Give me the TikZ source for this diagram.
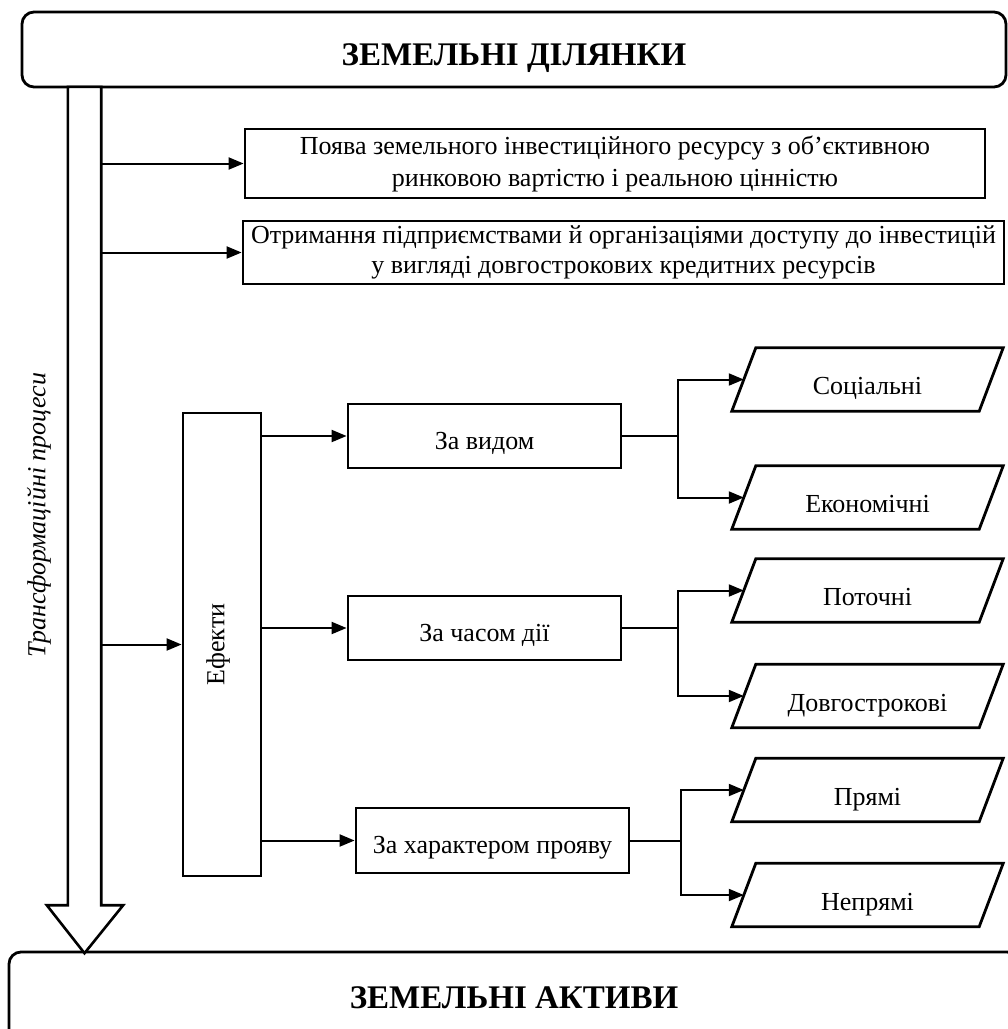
\documentclass[tikz,border=0pt]{standalone}
\usepackage{fontspec}
\setmainfont{Liberation Serif}
\usetikzlibrary{arrows.meta,calc}
\begin{document}
\begin{tikzpicture}[x=1pt,y=-1pt,
  box/.style={draw, line width=2.8pt, inner sep=0pt, align=center, font=\fontsize{26}{32}\selectfont},
  low/.style={text height=26pt, text depth=0pt},
  rbox/.style={draw, line width=2.8pt, rounded corners=12pt, inner sep=0pt, font=\bfseries\fontsize{33}{38}\selectfont},
  core/.style={inner sep=0pt, minimum width=247pt, minimum height=63pt, text height=30pt, text depth=0pt, font=\fontsize{26}{30}\selectfont},
  para/.style={line width=2.8pt, line join=miter},
  conn/.style={line width=2pt},
  arr/.style={conn, -{Triangle[length=15pt,width=12pt]}},
  vtext/.style={rotate=90, inner sep=0pt, font=\fontsize{26}{30}\selectfont}]
\useasboundingbox (0,0) rectangle (1008,1029);
\clip (0,0) rectangle (1008,1029);

% title boxes
\node[rbox, minimum width=984pt, minimum height=75pt, text height=31pt, text depth=0pt] (top) at (514,49.5) {ЗЕМЕЛЬНІ ДІЛЯНКИ};
\node[rbox, minimum width=1010pt, minimum height=90pt, text height=22pt, text depth=0pt] (bot) at (514,997) {ЗЕМЕЛЬНІ АКТИВИ};

% transformation pillar
\path node[inner sep=0pt, minimum width=33pt, minimum height=818pt] (shaft) at (84.5,496) {};
\draw[line width=2.6pt, fill=white, line join=miter]
  (shaft.north west) -- (shaft.north east) -- (shaft.south east)
  -- ++(22,0) -- ($(shaft.south)+(0,48)$) -- ($(shaft.south west)+(-21,0)$)
  -- (shaft.south west) -- cycle;
\node[vtext, font=\itshape\fontsize{26}{30}\selectfont] (tp) at (39,515) {Трансформаційні процеси};

% upper boxes
\node[box, minimum width=740pt, minimum height=69pt] (b1) at (615,163.5)
  {Поява земельного інвестиційного ресурсу з об’єктивною\\ринковою вартістю і реальною цінністю};
\node[box, minimum width=761pt, minimum height=63pt, font=\fontsize{26}{30}\selectfont] (b2) at (623.5,252.5)
  {Отримання підприємствами й організаціями доступу до інвестицій\\у вигляді довгострокових кредитних ресурсів};

% effects
\node[box, minimum width=78pt, minimum height=463pt] (eff) at (222,644.5) {};
\node[vtext] (efft) at ($(eff.center)+(-4,0)$) {Ефекти};

\node[box, low, minimum width=273pt, minimum height=64pt] (vid) at (484.5,436) {За видом};
\node[box, low, minimum width=273pt, minimum height=64pt] (chas) at (484.5,628) {За часом дії};
\node[box, low, minimum width=273pt, minimum height=65pt] (khar) at (492.5,840.5) {За характером прояву};

% parallelograms
\node[core] (soc) at (867.5,379.5) {Соціальні};
\node[core] (eco) at (867.5,497.5) {Економічні};
\node[core] (pot) at (867.5,590.5) {Поточні};
\node[core] (dov) at (867.5,696) {Довгострокові};
\node[core] (pry) at (867.5,790) {Прямі};
\node[core] (nep) at (867.5,895) {Непрямі};
\foreach \n in {soc,eco,pot,dov,pry,nep}
  \draw[para] ($(\n.south west)+(-12,0)$) -- ($(\n.north west)+(12,0)$)
    -- ($(\n.north east)+(12,0)$) -- ($(\n.south east)+(-12,0)$) -- cycle;

% connectors from pillar
\draw[arr] (shaft.east |- b1.west) -- (b1.west);
\draw[arr] (shaft.east |- b2.west) -- (b2.west);
\draw[arr] (shaft.east |- eff.west) -- (eff.west);

% connectors from effects
\draw[arr] (eff.east |- vid.west) -- (vid.west);
\draw[arr] (eff.east |- chas.west) -- (chas.west);
\draw[arr] (eff.east |- khar.west) -- (khar.west);

% branches
\draw[arr] (vid.east) -- ++(56,0) |- (soc.west);
\draw[arr] (vid.east) -- ++(56,0) |- (eco.west);
\draw[arr] (chas.east) -- ++(56,0) |- (pot.west);
\draw[arr] (chas.east) -- ++(56,0) |- (dov.west);
\draw[arr] (khar.east) -- ++(51,0) |- (pry.west);
\draw[arr] (khar.east) -- ++(51,0) |- (nep.west);
\end{tikzpicture}
\end{document}
